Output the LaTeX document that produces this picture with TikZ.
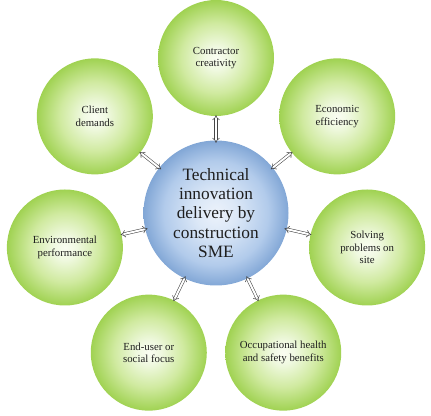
\documentclass[tikz,border=0pt]{standalone}
\usepackage{fontspec}
\setmainfont{Liberation Serif}
\usetikzlibrary{arrows.meta}
\definecolor{txt}{RGB}{30,30,30}
\pgfdeclareradialshading{greenball}{\pgfpoint{0bp}{0bp}}{%
  color(0bp)=(rgb,255:red,250;green,253;blue,242);
  color(5bp)=(rgb,255:red,240;green,249;blue,225);
  color(15bp)=(rgb,255:red,208;green,234;blue,160);
  color(25bp)=(rgb,255:red,160;green,210;blue,82);
  color(50bp)=(rgb,255:red,160;green,210;blue,82)}
\pgfdeclareradialshading{blueball}{\pgfpoint{0bp}{0bp}}{%
  color(0bp)=(rgb,255:red,236;green,242;blue,251);
  color(7bp)=(rgb,255:red,220;green,232;blue,247);
  color(18bp)=(rgb,255:red,178;green,203;blue,235);
  color(25bp)=(rgb,255:red,130;green,167;blue,214);
  color(50bp)=(rgb,255:red,130;green,167;blue,214)}
\begin{document}
\begin{tikzpicture}[x=1pt,y=1pt,
  outerball/.style={circle, minimum size=116pt, inner sep=0pt, shading=greenball,
    align=center, font=\fontsize{10.8}{12.5}\selectfont, text=txt},
  centerball/.style={circle, minimum size=145pt, inner sep=0pt, shading=blueball,
    align=center, font=\fontsize{17.3}{19.2}\selectfont, text=txt},
  conn/.style={draw=gray!55!black, line width=0.55pt, double=white,
    double distance=2pt, {Implies}-{Implies}, shorten <=-2.5pt, shorten >=-1pt}]
\useasboundingbox (0,0) rectangle (431,415);
\node[centerball] (c) at (216,202) {Technical\\innovation\\delivery by\\construction\\SME};
\node[outerball] (n1) at ([shift={(90:155pt)}]c.center) {Contractor\\creativity};
\node[outerball] (n2) at ([shift={(38.57:155pt)}]c.center) {Economic\\efficiency};
\node[outerball] (n3) at ([shift={(-12.86:155pt)}]c.center) {Solving\\problems on\\site};
\node[outerball] (n4) at ([shift={(-64.29:155pt)}]c.center) {Occupational health\\and safety benefits};
\node[outerball] (n5) at ([shift={(-115.71:155pt)}]c.center) {End-user or\\social focus};
\node[outerball] (n6) at ([shift={(-167.14:155pt)}]c.center) {Environmental\\performance};
\node[outerball] (n7) at ([shift={(141.43:155pt)}]c.center) {Client\\demands};
\foreach \n in {n1,n2,n3,n4,n5,n6,n7}{
  \draw[conn] (c) -- (\n);
}
\end{tikzpicture}
\end{document}
